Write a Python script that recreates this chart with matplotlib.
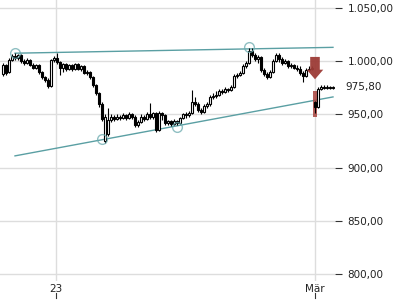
import numpy as np
import matplotlib.pyplot as plt
from matplotlib.transforms import blended_transform_factory

# OHLC, one candle per slot (last 7 slots = March session)
opens = [988, 996, 990, 1001, 1005, 1003, 1006, 1000, 998, 1001, 996, 994, 996, 990, 985, 982,
         977, 1001, 1003, 999, 994, 997, 993, 996, 993, 997, 993, 995, 989, 990, 985, 978,
         970, 960, 925, 932, 945, 948, 946, 948, 947, 949, 947, 950, 948, 940, 943, 948,
         946, 950, 948, 951, 935, 951, 949, 942, 944, 941, 944, 942, 947, 950, 949, 951,
         962, 960, 954, 952, 958, 960, 966, 967, 968, 972, 971, 974, 973, 976, 986, 987,
         989, 995, 998, 1010, 1006, 1002, 1004, 992, 988, 985, 990, 1000, 1006, 1002, 998, 1000,
         995, 996, 994, 993, 989, 986, 992, 993, 962, 957, 974, 976, 975, 976, 975]
closes = [996, 989, 1001, 1005, 1003, 1006, 1000, 998, 1001, 996, 994, 996, 990, 985, 982, 977,
          1001, 1003, 999, 994, 997, 993, 996, 993, 997, 993, 995, 989, 990, 985, 978, 970,
          960, 946, 948, 945, 948, 946, 948, 947, 949, 947, 950, 948, 940, 943, 948, 946,
          950, 948, 951, 935, 951, 949, 942, 944, 941, 944, 942, 947, 950, 949, 951, 962,
          960, 954, 952, 958, 960, 966, 967, 968, 972, 971, 974, 973, 976, 986, 987, 989,
          995, 998, 1010, 1006, 1002, 1004, 992, 988, 985, 990, 1000, 1006, 1002, 998, 1000, 995,
          996, 994, 993, 989, 986, 992, 993, 994, 957, 974, 976, 975, 976, 975, 975.8]
highs = [998, 997, 1003, 1007, 1008, 1007, 1007, 1002, 1003, 1002, 998, 997, 997, 991, 986, 984,
         1002, 1005, 1008, 1000, 998, 998, 997, 997, 998, 998, 996, 996, 992, 991, 986, 979,
         971, 962, 950, 956, 950, 949, 950, 949, 951, 950, 952, 951, 949, 945, 950, 949,
         952, 961, 952, 952, 953, 952, 950, 945, 945, 946, 945, 948, 951, 952, 953, 973,
         966, 962, 956, 960, 962, 968, 970, 972, 974, 974, 976, 975, 978, 988, 989, 991,
         997, 1000, 1012, 1012, 1008, 1006, 1005, 994, 990, 992, 1002, 1008, 1008, 1004, 1002, 1001,
         998, 997, 996, 995, 991, 994, 995, 995, 963, 976, 978, 978, 978, 977, 977]
lows = [986, 987, 989, 1000, 1001, 1001, 998, 996, 997, 995, 993, 993, 988, 983, 980, 975,
        976, 999, 997, 987, 990, 991, 992, 991, 992, 992, 991, 988, 987, 983, 976, 968,
        957, 944, 923, 930, 943, 944, 945, 945, 946, 945, 946, 946, 938, 938, 942, 944,
        945, 946, 946, 933, 934, 945, 940, 940, 939, 940, 940, 941, 946, 947, 948, 950,
        958, 952, 950, 951, 956, 958, 964, 965, 967, 969, 970, 971, 972, 975, 984, 986,
        988, 994, 997, 1004, 1000, 998, 990, 986, 983, 984, 989, 999, 999, 996, 997, 994,
        994, 993, 991, 987, 980, 985, 991, 992, 951, 956, 973, 974, 974, 974, 974]
last_price = 975.80

# trend channel and touch points (slot, price)
upper_line = ([4, 110], [1007.5, 1013.0])
lower_line = ([4, 110], [911.0, 966.4])
touch_x = [4, 33, 58, 82]
touch_y = [1007.5, 927.0, 938.0, 1013.0]

# gap bar and signal arrow
gap_x, gap_low, gap_high = 104, 948, 972
arrow_x, arrow_from, arrow_to = 104, 1004, 983

xtick_pos = [17.7, 104]
xtick_labels = ['23', 'Mär']
yticks = [800, 850, 900, 950, 1000, 1050]


def de_fmt(v):
    s = f"{v:,.2f}"
    return s.replace(',', 'X').replace('.', ',').replace('X', '.')


fig = plt.figure(figsize=(4, 3), dpi=100)
ax = fig.add_axes([0, 19 / 300, 335 / 400, 281 / 300])

x = np.arange(len(closes))
o = np.array(opens, float)
c = np.array(closes, float)
up = c >= o

ax.set_xlim(-1, 110.67)
ax.set_ylim(793.4, 1057.5)

ax.set_yticks(yticks)
ax.set_xticks(xtick_pos)
ax.grid(True, color='#dddddd', linewidth=1)
ax.set_axisbelow(True)
for s in ax.spines.values():
    s.set_visible(False)

# channel lines
ax.plot(*upper_line, color='#5a9fa3', linewidth=1, zorder=2)
ax.plot(*lower_line, color='#5a9fa3', linewidth=1, zorder=2)

# gap bar
ax.bar(gap_x, gap_high - gap_low, bottom=gap_low, width=1.4,
       color='#a8433d', alpha=0.85, zorder=3, linewidth=0)

# candles
ax.vlines(x, lows, highs, color='black', linewidth=0.8, zorder=4)
body = np.abs(c - o)
body = np.where(body < 1.0, 1.0, body)
ax.bar(x[up], body[up], bottom=o[up], width=0.85, color='white',
       edgecolor='black', linewidth=0.8, zorder=5)
ax.bar(x[~up], body[~up], bottom=c[~up], width=0.85, color='black',
       edgecolor='black', linewidth=0.8, zorder=5)

# touch circles
ax.plot(touch_x, touch_y, 'o', markersize=7, markerfacecolor='none',
        markeredgecolor='#6aaaae', markeredgewidth=1, alpha=0.75, zorder=6)

# signal arrow
ax.arrow(arrow_x, arrow_from, 0, arrow_to - arrow_from, width=3.2, head_width=5.5,
         head_length=9, length_includes_head=True, color='#9c3b36',
         alpha=0.95, linewidth=0, zorder=7)

ax.yaxis.tick_right()
ax.set_yticklabels([de_fmt(v) for v in yticks])
ax.tick_params(axis='y', length=5, width=0.8, color='#333333', pad=4,
               labelsize=7.5, labelcolor='#222222')
ax.set_xticklabels(xtick_labels)
ax.tick_params(axis='x', length=0, pad=2, labelsize=7.5, labelcolor='#222222')

trans = blended_transform_factory(ax.transData, ax.transAxes)
for xp in xtick_pos:
    ax.plot([xp, xp], [-0.043, -0.06], color='#333333', linewidth=0.8,
            transform=trans, clip_on=False)

ytr = blended_transform_factory(ax.transAxes, ax.transData)
ax.text(1.0 + 10 / 335, last_price, de_fmt(last_price), transform=ytr,
        va='center', ha='left', fontsize=7.5, color='#222222')

fig.savefig('out.png', dpi=100)
